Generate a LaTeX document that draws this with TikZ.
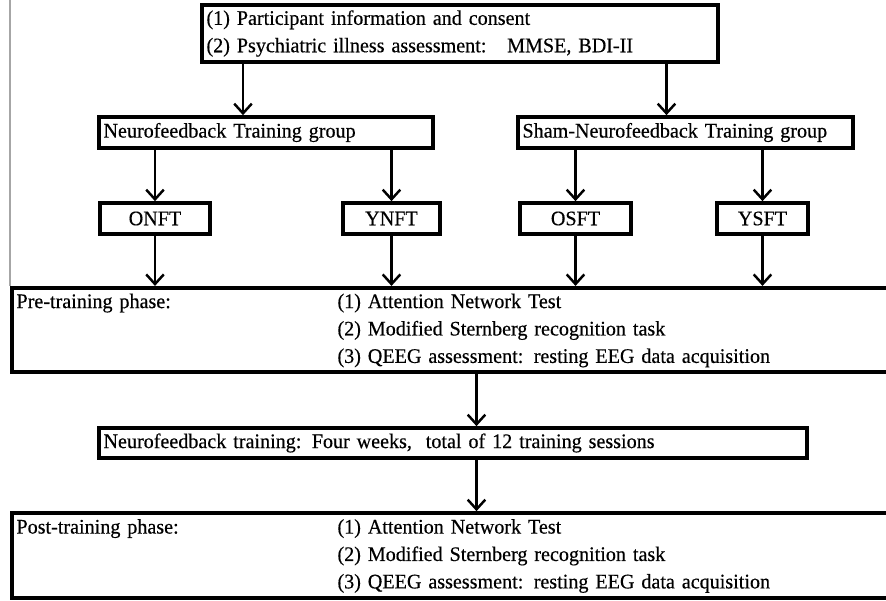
\documentclass[tikz,border=0pt]{standalone}
\usepackage{fontspec}
\setmainfont{Liberation Serif}[FakeStretch=0.97,FakeBold=0.4,WordSpace=0.75]
\usetikzlibrary{arrows.meta,positioning,calc}

\begin{document}
\begin{tikzpicture}[>={Straight Barb[length=5.5pt,width=10pt]},
	box/.style={draw=black, line width=2.1pt, inner xsep=2.5pt, inner ysep=0pt, align=left},
	tag/.style={box, align=center},
	arr/.style={->, line width=1.4pt},
	font=\fontsize{11.8}{15.6}\selectfont]
		\path [use as bounding box, clip] (0,0) rectangle (17.72,12);

		\node (info) at (9.2,11.33) [box, text width=10.14cm, minimum height=1.14cm] {(1) Participant information and consent\\(2) Psychiatric illness assessment:\quad MMSE, BDI-II};
		\node (nfg) at (5.32,9.35) [box, text width=6.5cm, minimum height=0.62cm] {Neurofeedback Training group};
		\node (sham) at (13.71,9.35) [box, text width=6.52cm, minimum height=0.62cm] {Sham-Neurofeedback Training group};

		\node (onft) at (3.1,7.63) [tag, text width=2.02cm, minimum height=0.62cm] {ONFT};
		\node (ynft) at (7.83,7.63) [tag, text width=1.76cm, minimum height=0.62cm] {YNFT};
		\node (osft) at (11.51,7.63) [tag, text width=2.04cm, minimum height=0.62cm] {OSFT};
		\node (ysft) at (15.25,7.63) [tag, text width=1.64cm, minimum height=0.62cm] {YSFT};

		\node (pre) at (9.12,5.4) [box, text width=17.58cm, minimum height=1.69cm] {\begin{tabular}{@{}p{6.42cm}@{}l@{}}
			Pre-training phase: & (1) Attention Network Test\\
			& (2) Modified Sternberg recognition task\\
			& (3) QEEG assessment: resting EEG data acquisition
		\end{tabular}};
		\node (nft) at (9.06,3.14) [box, text width=13.98cm, minimum height=0.6cm] {Neurofeedback training: Four weeks,\ \ total of 12 training sessions};
		\node (post) at (9.12,0.89) [box, text width=17.58cm, minimum height=1.7cm] {\begin{tabular}{@{}p{6.42cm}@{}l@{}}
			Post-training phase: & (1) Attention Network Test\\
			& (2) Modified Sternberg recognition task\\
			& (3) QEEG assessment: resting EEG data acquisition
		\end{tabular}};

		\coordinate (ka) at (4.86,0);
		\coordinate (kb) at (13.33,0);
		\coordinate (kc) at (9.53,0);
		\coordinate (rim) at (0.2,12);

		\draw [gray!70, line width=1pt] (rim) -- (rim |- pre.north);

		\draw [arr] (info.south -| ka) -- (nfg.north -| ka);
		\draw [arr] (info.south -| kb) -- (sham.north -| kb);
		\draw [arr] (nfg.south -| onft.north) -- (onft.north);
		\draw [arr] (nfg.south -| ynft.north) -- (ynft.north);
		\draw [arr] (sham.south -| osft.north) -- (osft.north);
		\draw [arr] (sham.south -| ysft.north) -- (ysft.north);
		\draw [arr] (onft.south) -- (onft.south |- pre.north);
		\draw [arr] (ynft.south) -- (ynft.south |- pre.north);
		\draw [arr] (osft.south) -- (osft.south |- pre.north);
		\draw [arr] (ysft.south) -- (ysft.south |- pre.north);
		\draw [arr] (pre.south -| kc) -- (nft.north -| kc);
		\draw [arr] (nft.south -| kc) -- (post.north -| kc);
	\end{tikzpicture}
\end{document}
